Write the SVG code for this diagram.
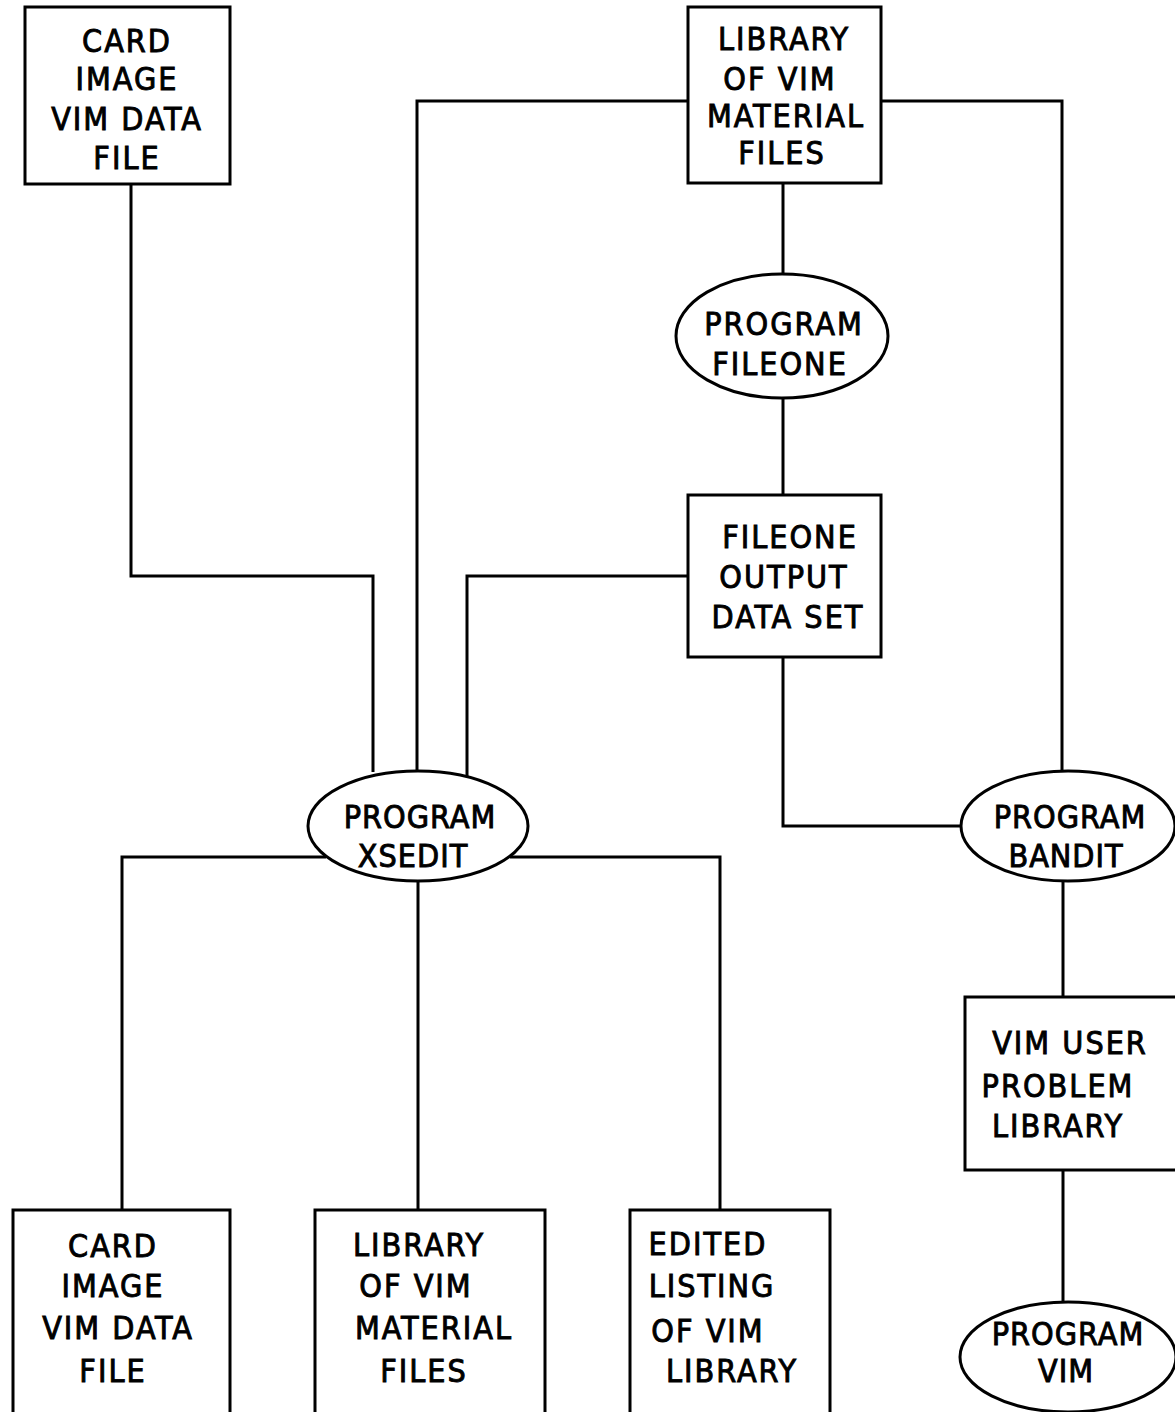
<svg xmlns="http://www.w3.org/2000/svg" width="1175" height="1412" viewBox="0 0 1175 1412">
<style>
.n{fill:#fff;stroke:#000;stroke-width:3}
.c{fill:none;stroke:#000;stroke-width:3}
text{font-family:"Liberation Sans Narrow","DejaVu Sans Condensed","Liberation Sans",sans-serif;font-size:32px;text-anchor:middle;fill:#000;stroke:#000;stroke-width:0.9;letter-spacing:2px}
text.t{letter-spacing:1px}
</style>
<rect width="1175" height="1412" fill="#fff"/>
<g id="connectors">
<polyline class="c" points="131,184 131,576 373,576 373,772"/>
<polyline class="c" points="688,101 417,101 417,778"/>
<polyline class="c" points="881,101 1062,101 1062,776"/>
<line class="c" x1="783" y1="183" x2="783" y2="274"/>
<line class="c" x1="783" y1="398" x2="783" y2="495"/>
<polyline class="c" points="688,576 467,576 467,790"/>
<polyline class="c" points="783,657 783,826 964,826"/>
<polyline class="c" points="326,857 122,857 122,1210"/>
<line class="c" x1="418" y1="880" x2="418" y2="1210"/>
<polyline class="c" points="510,857 720,857 720,1210"/>
<line class="c" x1="1063" y1="880" x2="1063" y2="997"/>
<line class="c" x1="1063" y1="1170" x2="1063" y2="1303"/>
</g>
<g id="card-image-top">
<rect class="n" x="25" y="7" width="205" height="177"/>
<text x="127" y="52">CARD</text>
<text x="127" y="90">IMAGE</text>
<text x="127" y="130">VIM DATA</text>
<text x="127" y="169">FILE</text>
</g>
<g id="library-top">
<rect class="n" x="688" y="7" width="193" height="176"/>
<text x="784" y="50">LIBRARY</text>
<text x="780" y="90">OF  VIM</text>
<text x="786" y="127">MATERIAL</text>
<text x="782" y="164">FILES</text>
</g>
<g id="fileone">
<ellipse class="n" cx="782" cy="336" rx="106" ry="62"/>
<text x="784" y="335">PROGRAM</text>
<text x="780" y="375">FILEONE</text>
</g>
<g id="fileone-output">
<rect class="n" x="688" y="495" width="193" height="162"/>
<text x="790" y="548">FILEONE</text>
<text x="784" y="588">OUTPUT</text>
<text x="788" y="628">DATA SET</text>
</g>
<g id="xsedit">
<ellipse class="n" cx="418" cy="826" rx="110" ry="55"/>
<text class="t" x="420" y="828">PROGRAM</text>
<text class="t" x="413" y="867">XSEDIT</text>
</g>
<g id="bandit">
<ellipse class="n" cx="1068" cy="826" rx="107" ry="55"/>
<text class="t" x="1070" y="828">PROGRAM</text>
<text class="t" x="1066" y="867">BANDIT</text>
</g>
<g id="vim-user">
<rect class="n" x="965" y="997" width="212" height="173"/>
<text x="1070" y="1054">VIM USER</text>
<text x="1058" y="1097">PROBLEM</text>
<text x="1058" y="1137">LIBRARY</text>
</g>
<g id="vim">
<ellipse class="n" cx="1068" cy="1357" rx="108" ry="55"/>
<text class="t" x="1068" y="1345">PROGRAM</text>
<text class="t" x="1066" y="1382">VIM</text>
</g>
<g id="card-image-bottom">
<rect class="n" x="13" y="1210" width="217" height="205"/>
<text x="113" y="1257">CARD</text>
<text x="113" y="1297">IMAGE</text>
<text x="118" y="1339">VIM  DATA</text>
<text x="113" y="1382">FILE</text>
</g>
<g id="library-bottom">
<rect class="n" x="315" y="1210" width="230" height="205"/>
<text x="419" y="1256">LIBRARY</text>
<text x="416" y="1297">OF VIM</text>
<text x="434" y="1339">MATERIAL</text>
<text x="424" y="1382">FILES</text>
</g>
<g id="edited-listing">
<rect class="n" x="630" y="1210" width="200" height="205"/>
<text x="708" y="1255">EDITED</text>
<text x="712" y="1297">LISTING</text>
<text x="708" y="1342">OF VIM</text>
<text x="732" y="1382">LIBRARY</text>
</g>
</svg>
